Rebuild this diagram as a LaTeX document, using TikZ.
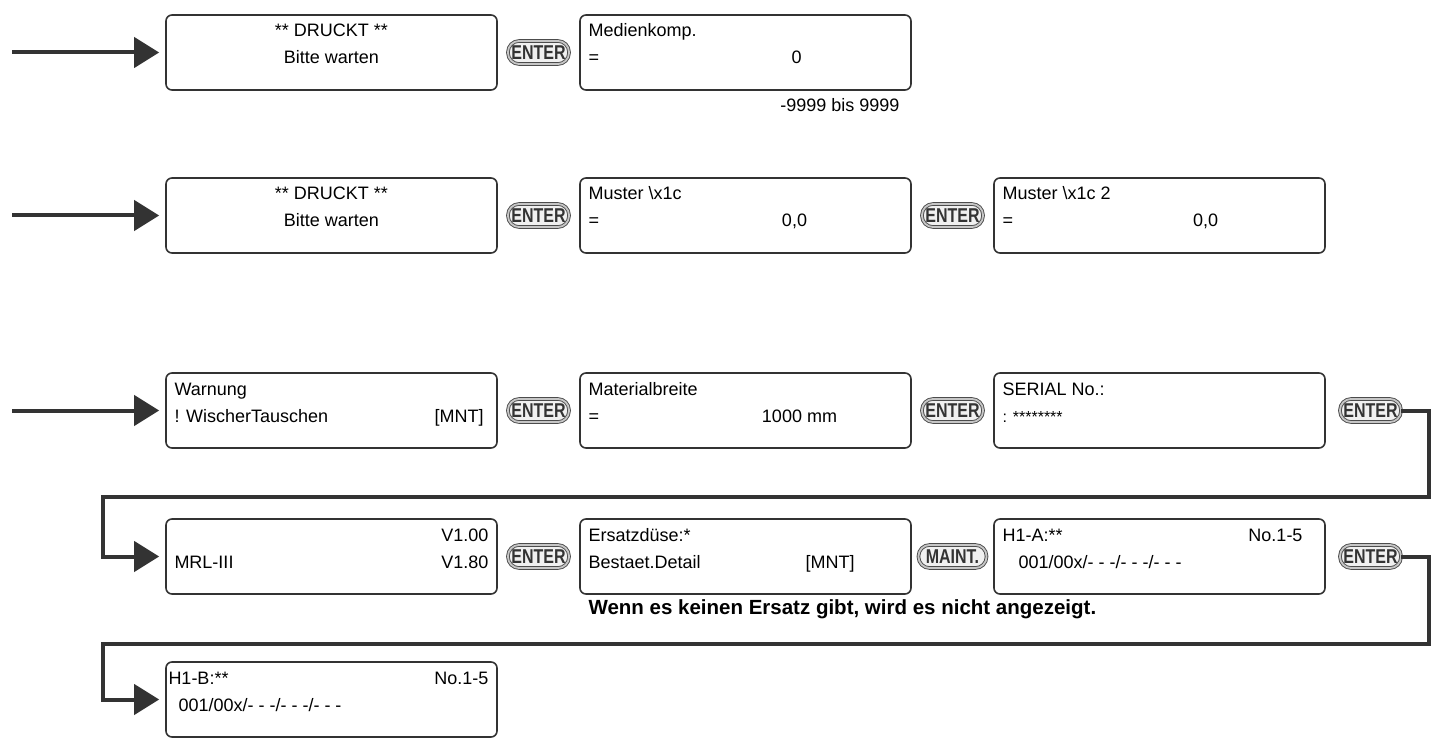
\documentclass[tikz,border=0pt]{standalone}
\usepackage{fontspec}
\setmainfont{Liberation Sans}
\usepackage{tikz}
\usetikzlibrary{arrows.meta,positioning}
\tikzset{flow/.style={line width=4pt,draw=black!80,-{Triangle[length=25pt,width=30pt]},shorten >=6pt}}
\newcommand{\lcd}[2]{\parbox[c][75pt][t]{314pt}{\baselineskip=27pt\rule{0pt}{22pt}#1\\#2}}

\begin{document}
\begin{tikzpicture}[x=1pt,y=-1pt,node distance=207pt,
                    font=\fontsize{18}{27}\selectfont]
  \tikzstyle{lcd}=[rectangle,draw=black!80,line width=1.6pt,rounded corners=6pt,fill=white,
                   inner sep=0pt,minimum width=331pt,minimum height=75pt]
  \tikzstyle{key}=[rectangle,rounded corners=11pt,draw=black!70,line width=0.9pt,
                   double=gray!45,double distance=1.8pt,fill=gray!12,text=black!80,
                   minimum width=61pt,minimum height=23pt,inner sep=1pt,
                   font=\fontsize{20}{20}\selectfont\bfseries]

  \useasboundingbox (0,0) rectangle (1435,743);

  % row 1
  \node[lcd] (b1) at (331.5,52.5) {\lcd{\centering ** DRUCKT **}{Bitte warten}};
  \node[key] (e1) [right of=b1] {\scalebox{0.8}[1]{ENTER}};
  \node[lcd] (b2) [right of=e1] {\lcd{Medienkomp.}{\rlap{=}\hspace*{208pt}\makebox[0pt]{0}}};
  \node[anchor=base east] (rng) at (903,112) {-9999 bis 9999};

  % row 2
  \node[lcd] (b3) at (331.5,215.5) {\lcd{\centering ** DRUCKT **}{Bitte warten}};
  \node[key] (e2) [right of=b3] {\scalebox{0.8}[1]{ENTER}};
  \node[lcd] (b4) [right of=e2] {\lcd{Muster \textbackslash x1c}{\rlap{=}\hspace*{206pt}\makebox[0pt]{0,0}}};
  \node[key] (e3) [right of=b4] {\scalebox{0.8}[1]{ENTER}};
  \node[lcd] (b5) [right of=e3] {\lcd{Muster \textbackslash x1c 2}{\rlap{=}\hspace*{203pt}\makebox[0pt]{0,0}}};

  % row 3
  \node[lcd] (b6) at (331.5,410.5) {\lcd{Warnung}{! WischerTauschen\hfill[MNT]\hspace*{5pt}}};
  \node[key] (e4) [right of=b6] {\scalebox{0.8}[1]{ENTER}};
  \node[lcd] (b7) [right of=e4] {\lcd{Materialbreite}{\rlap{=}\hspace*{211pt}\makebox[0pt]{1000 mm}}};
  \node[key] (e5) [right of=b7] {\scalebox{0.8}[1]{ENTER}};
  \node[lcd] (b8) [right of=e5] {\lcd{SERIAL No.:}{{\fontsize{16}{16}\selectfont : ********}}};
  \node[key] (e6) [right of=b8,node distance=211pt] {\scalebox{0.8}[1]{ENTER}};

  % row 4
  \node[lcd] (b9) at (331.5,556.5) {\lcd{\hfill V1.00}{MRL-III\hfill V1.80}};
  \node[key] (e7) [right of=b9] {\scalebox{0.8}[1]{ENTER}};
  \node[lcd] (b10) [right of=e7] {\lcd{Ersatzdüse:*}{Bestaet.Detail\hfill[MNT]\hspace*{48pt}}};
  \node[key,minimum width=68pt] (m1) [right of=b10] {\scalebox{0.8}[1]{MAINT.}};
  \node[lcd] (b11) [right of=m1] {\lcd{H1-A:**\hfill No.1-5\hspace*{14pt}}{\hspace*{16pt}001/00x/- - -/- - -/- - -}};
  \node[key] (e8) [right of=b11,node distance=211pt] {\scalebox{0.8}[1]{ENTER}};
  \node[anchor=base west,font=\fontsize{20.5}{24}\selectfont\bfseries] (note) at (585,614)
       {Wenn es keinen Ersatz gibt, wird es nicht angezeigt.};

  % row 5
  \node[lcd] (b12) at (331.5,699.5) {\lcd{\hspace*{-6pt}H1-B:**\hfill No.1-5}{\hspace*{4pt}001/00x/- - -/- - -/- - -}};

  \coordinate (in1) at (12,52.5);
  \coordinate (in2) at (12,215.5);
  \coordinate (in3) at (12,410.5);
  \coordinate (r1) at (1429,497);
  \coordinate (r2) at (103,497);
  \coordinate (r3) at (1429,644);
  \coordinate (r4) at (103,644);

  \draw[flow] (in1) -- (b1);
  \draw[flow] (in2) -- (b3);
  \draw[flow] (in3) -- (b6);
  \draw[flow,line join=miter] (e6.east) -| (r1) -- (r2) |- (b9.west);
  \draw[flow,line join=miter] (e8.east) -| (r3) -- (r4) |- (b12.west);

\end{tikzpicture}
\end{document}
